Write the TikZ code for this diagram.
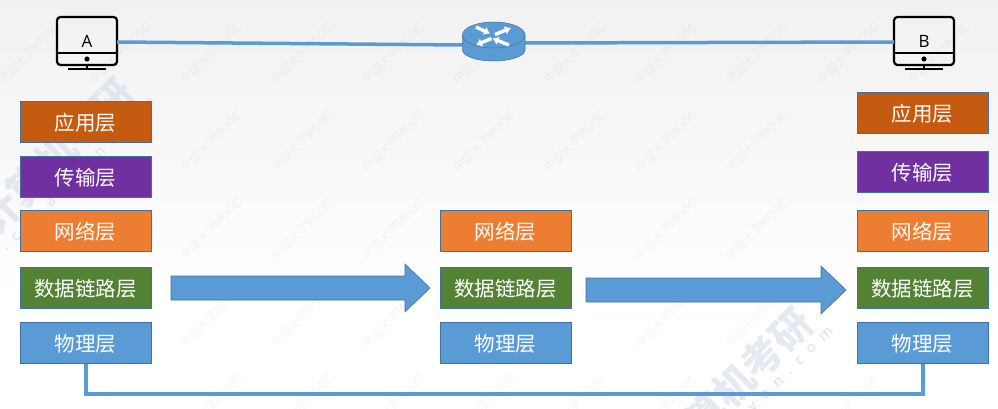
\documentclass[tikz,border=0pt]{standalone}
\usepackage{fontspec}
\newfontfamily\cjk{Noto Sans CJK SC}
\newfontfamily\urlfont[LetterSpace=60]{Noto Sans}
\usetikzlibrary{arrows.meta}
\definecolor{bl}{HTML}{5B9BD5}
\definecolor{bledge}{HTML}{41719C}
\definecolor{or}{HTML}{ED7D31}
\definecolor{br}{HTML}{C55A11}
\definecolor{pu}{HTML}{7030A0}
\definecolor{gr}{HTML}{548235}
\definecolor{wmbig}{HTML}{D5DBE8}
\definecolor{bgtop}{HTML}{F1F1F1}
\tikzset{
 x=1pt,y=-1pt,
 layer/.style={draw=bledge,line width=0.8pt,minimum width=131pt,minimum height=41pt,inner sep=0pt,text=white,text height=18.5pt,text depth=1.5pt,font=\cjk\fontsize{20.5}{20.5}\selectfont},
 appl/.style={layer,fill=br},
 tran/.style={layer,fill=pu},
 netw/.style={layer,fill=or},
 link/.style={layer,fill=gr},
 phys/.style={layer,fill=bl},
 wire/.style={draw=bl,line width=3.5pt},
 buswire/.style={draw=bl,line width=4.5pt,line join=miter},
 flow/.style={fill=bl,draw=bledge,line width=0.6pt},
 wm/.style={rotate=45,text=black,text opacity=0.04,font=\cjk\fontsize{11.5}{11.5}\selectfont,inner sep=0pt},
 wmb/.style={rotate=45,text=wmbig,text opacity=0.6,font=\cjk\bfseries\fontsize{40}{40}\selectfont,inner sep=0pt},
 wmu/.style={rotate=45,text=wmbig,text opacity=0.8,font=\urlfont\fontsize{15}{15}\selectfont,inner sep=0pt},
}
\newcommand{\monitor}[3]{%
 \begin{scope}[shift={(#1,#2)}]
 \draw[black,line width=2.2pt,rounded corners=3.5pt] (-30,-25) rectangle (30,23);
 \draw[black,line width=2.2pt] (-30,11) -- (30,11);
 \fill[black] (0,17) circle (2.6pt);
 \draw[black,line width=2pt] (0,23) -- (0,27) (-19,27.5) -- (19,27.5);
 \node[font=\fontspec{Open Sans}\fontsize{17}{17}\selectfont,inner sep=0pt] at (0,-1) {#3};
 \end{scope}}
\begin{document}
\begin{tikzpicture}
\useasboundingbox (0,0) rectangle (998,409);
\shade[top color=bgtop,bottom color=white] (0,0) rectangle (998,300);
\fill[white] (0,300) rectangle (998,409);
\foreach \x/\y in {29/53,120/53,211/53,302/53,393/53,484/53,575/53,666/53,757/53,848/53,939/53,
 211/141,302/141,393/141,484/141,575/141,666/141,757/141,
 211/229,302/229,393/229,666/229,757/229,
 211/317,302/317,393/317,666/317,757/317,
 211/405,302/405,393/405,484/405,575/405,666/405,757/405,848/405}{\node[wm] at (\x,\y) {中国大学MOOC};}
\node[wmb] at (56,156) {计算机考研};
\node[wmu] at (57,196) {www.cskaoyan.com};
\node[wmb] at (734,386) {计算机考研};
\node[wmu] at (735,426) {www.cskaoyan.com};
\monitor{87}{42}{A}
\monitor{924}{42}{B}
\coordinate (ra) at (117,42);
\coordinate (rb) at (894,42);
\coordinate (rl) at (463,45);
\coordinate (rr) at (525,43);
\draw[wire] (ra) -- (rl);
\draw[wire] (rr) -- (rb);
% router
\fill[bl,draw=bledge,line width=0.5pt] (462.5,35) -- (462.5,50) arc[start angle=180,end angle=360,x radius=31.25pt,y radius=11pt] -- (525,35) -- cycle;
\draw[fill=bl,draw=bledge,line width=0.5pt] (493.75,35) ellipse[x radius=31.25pt,y radius=13pt];
\foreach \ax/\ay/\bx/\by in {476/27/490/33.5, 495/34.5/511/28, 491.5/38.5/476/45, 509/45/492.5/38.5}{
 \draw[white,line width=3.4pt,-{Latex[length=6pt,width=9pt]}] (\ax,\ay) -- (\bx,\by);}
\node[appl] (a1) at (85.5,122) {应用层};
\node[tran] (a2) at (85.5,177) {传输层};
\node[netw] (a3) at (85.5,231) {网络层};
\node[link] (a4) at (85.5,288) {数据链路层};
\node[phys] (a5) at (85.5,343) {物理层};
\node[netw] (m3) at (505.5,231) {网络层};
\node[link] (m4) at (505.5,288) {数据链路层};
\node[phys] (m5) at (505.5,343) {物理层};
\node[appl] (b1) at (922.5,113) {应用层};
\node[tran] (b2) at (922.5,172) {传输层};
\node[netw] (b3) at (922.5,231) {网络层};
\node[link] (b4) at (922.5,288) {数据链路层};
\node[phys] (b5) at (922.5,343) {物理层};
\coordinate (busa) at (86,394);
\coordinate (busb) at (923,394);
\draw[buswire] (a5.south -| busa) -- (busa) -- (busb) -- (b5.south -| busb);
\draw[flow] (171,276)--(405,276)--(405,264)--(430,288)--(405,312)--(405,300)--(171,300)--cycle;
\draw[flow] (586,278)--(821,278)--(821,266)--(846,290)--(821,314)--(821,302)--(586,302)--cycle;
\end{tikzpicture}
\end{document}
